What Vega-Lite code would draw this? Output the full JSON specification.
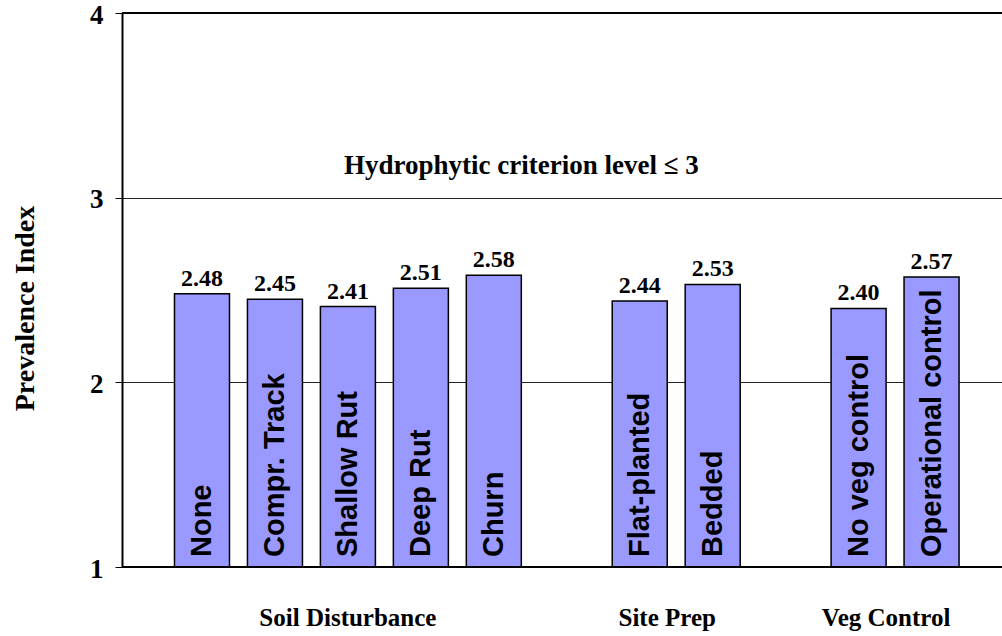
{
  "$schema": "https://vega.github.io/schema/vega-lite/v6.json",
  "width": 880,
  "height": 554,
  "autosize": "none",
  "padding": {"left": 122, "top": 13, "right": 0, "bottom": 69},
  "background": "white",
  "config": {
    "view": {"stroke": null},
    "font": "Liberation Serif"
  },
  "datasets": {
    "bars": [
      {"treatment": "None", "group": "Soil Disturbance", "pi": 2.48, "label": "2.48"},
      {"treatment": "Compr. Track", "group": "Soil Disturbance", "pi": 2.45, "label": "2.45"},
      {"treatment": "Shallow Rut", "group": "Soil Disturbance", "pi": 2.41, "label": "2.41"},
      {"treatment": "Deep Rut", "group": "Soil Disturbance", "pi": 2.51, "label": "2.51"},
      {"treatment": "Churn", "group": "Soil Disturbance", "pi": 2.58, "label": "2.58"},
      {"treatment": "Flat-planted", "group": "Site Prep", "pi": 2.44, "label": "2.44"},
      {"treatment": "Bedded", "group": "Site Prep", "pi": 2.53, "label": "2.53"},
      {"treatment": "No veg control", "group": "Veg Control", "pi": 2.40, "label": "2.40"},
      {"treatment": "Operational control", "group": "Veg Control", "pi": 2.57, "label": "2.57"}
    ],
    "frame": [{"level": 1}, {"level": 4}]
  },
  "encoding": {
    "x": {
      "field": "treatment",
      "type": "nominal",
      "axis": null,
      "scale": {
        "domain": ["None", "Compr. Track", "Shallow Rut", "Deep Rut", "Churn", "gap1", "Flat-planted", "Bedded", "gap2", "No veg control", "Operational control"],
        "paddingInner": 0.246,
        "paddingOuter": 0.654,
        "align": 0.55
      }
    }
  },
  "layer": [
    {
      "data": {"name": "bars"},
      "mark": {"type": "bar", "fill": "#9999FF", "stroke": "#000", "strokeWidth": 1.5},
      "encoding": {
        "y": {
          "field": "pi",
          "type": "quantitative",
          "scale": {"domain": [1, 4], "nice": false, "zero": false},
          "axis": {
            "values": [1, 2, 3, 4],
            "format": "d",
            "title": "Prevalence Index",
            "titleFont": "Liberation Serif",
            "titleFontSize": 28,
            "titleFontWeight": "bold",
            "titleColor": "#000",
            "titlePadding": 50,
            "titleY": 295,
            "labelFont": "Liberation Serif",
            "labelFontSize": 27,
            "labelFontWeight": "bold",
            "labelColor": "#000",
            "labelPadding": 12,
            "labelOffset": 2,
            "tickColor": "#000",
            "tickSize": 7,
            "tickWidth": 1,
            "domainColor": "#000",
            "domainWidth": 2,
            "grid": true,
            "gridColor": "#222",
            "gridWidth": 1
          }
        },
        "y2": {"datum": 1}
      }
    },
    {
      "data": {"name": "frame"},
      "mark": {"type": "rule", "color": "#000", "strokeWidth": 2},
      "encoding": {
        "x": null,
        "y": {"field": "level", "type": "quantitative"}
      }
    },
    {
      "data": {"name": "bars"},
      "mark": {"type": "text", "font": "Liberation Serif", "fontWeight": "bold", "fontSize": 24, "baseline": "bottom", "dy": -3, "color": "#000"},
      "encoding": {
        "y": {"field": "pi", "type": "quantitative"},
        "text": {"field": "label"}
      }
    },
    {
      "data": {"name": "bars"},
      "mark": {"type": "text", "font": "Liberation Sans", "fontWeight": "bold", "fontSize": 29, "angle": 270, "align": "left", "baseline": "middle", "dx": 10, "color": "#000"},
      "encoding": {
        "y": {"datum": 1, "type": "quantitative"},
        "text": {"field": "treatment"}
      }
    },
    {
      "data": {"values": [{"anchor": "Shallow Rut", "text": "Soil Disturbance"}]},
      "mark": {"type": "text", "font": "Liberation Serif", "fontWeight": "bold", "fontSize": 25, "baseline": "middle", "dy": 51, "color": "#000"},
      "encoding": {
        "x": {"field": "anchor", "type": "nominal"},
        "y": {"datum": 1, "type": "quantitative"},
        "text": {"field": "text"}
      }
    },
    {
      "data": {"values": [{"anchor": "Flat-planted", "text": "Site Prep"}, {"anchor": "No veg control", "text": "Veg Control"}]},
      "mark": {"type": "text", "font": "Liberation Serif", "fontWeight": "bold", "fontSize": 25, "baseline": "middle", "dy": 51, "color": "#000"},
      "encoding": {
        "x": {"field": "anchor", "type": "nominal", "bandPosition": 1},
        "y": {"datum": 1, "type": "quantitative"},
        "text": {"field": "text"}
      }
    },
    {
      "data": {"values": [{"anchor": "Churn", "text": "Hydrophytic criterion level ≤ 3"}]},
      "mark": {"type": "text", "font": "Liberation Serif", "fontWeight": "bold", "fontSize": 27, "baseline": "alphabetic", "dy": -24, "color": "#000"},
      "encoding": {
        "x": {"field": "anchor", "type": "nominal", "bandPosition": 1},
        "y": {"datum": 3, "type": "quantitative"},
        "text": {"field": "text"}
      }
    }
  ]
}
